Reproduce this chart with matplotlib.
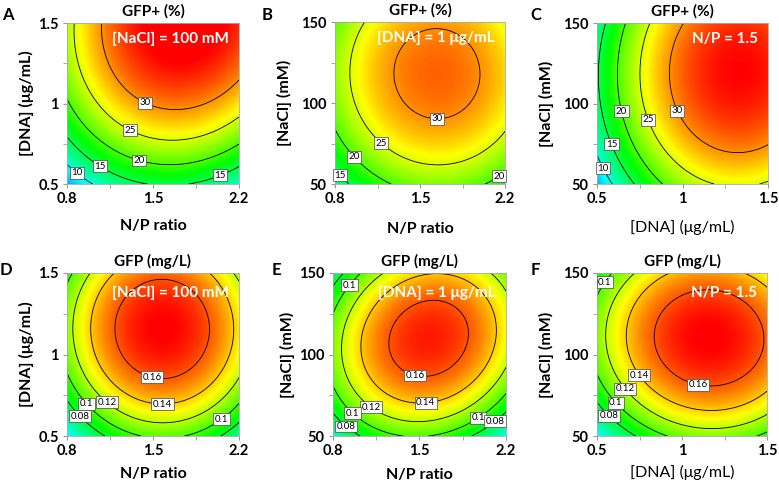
import numpy as np
import matplotlib
matplotlib.use('Agg')
import matplotlib.pyplot as plt
from matplotlib.colors import LinearSegmentedColormap

plt.rcParams['font.family'] = ['Lato', 'DejaVu Sans']

# quadratic response-surface coefficients (coded units -1..1): b0, bu, bv, buu, bvv, buv
coef_A = [30.32, 3.768, 10.19, -7.04, -4.941, 1.32]
coef_B = [30.67, 2.558, 3.805, -6.299, -5.222, -0.1245]
coef_C = [30.96, 9.623, 3.65, -7.301, -4.748, 0.3383]
coef_D = [0.1708, 0.01116, 0.02632, -0.05139, -0.04189, -0.00053]
coef_E = [0.1683, 0.008229, 0.01818, -0.05059, -0.04915, 0.01239]
coef_F = [0.1698, 0.02443, 0.0191, -0.0376, -0.04492, -0.002258]

levels_pct = [10, 15, 20, 25, 30]
levels_pct_B = [15, 20, 25, 30]
levels_mg = [0.08, 0.1, 0.12, 0.14, 0.16]

NP = (0.8, 2.2)
DNA = (0.5, 1.5)
NACL = (50, 150)

lab_A = [(1.437, 1.005), (1.311, 0.835), (1.395, 0.665), (1.08, 0.625), (2.04, 0.565), (0.884, 0.575)]
lab_B = [(1.64, 82), (1.19, 76), (0.975, 68), (0.856, 56.5), (2.13, 57)]
lab_C = [(0.99, 96.5), (0.805, 90), (0.635, 95), (0.59, 75), (0.54, 60)]
lab_D = [(1.5, 0.875), (1.577, 0.71), (1.129, 0.71), (0.961, 0.70), (0.905, 0.62), (2.053, 0.605)]
lab_E = [(1.465, 86.5), (1.55, 70), (1.115, 68.5), (0.96, 64), (0.905, 55.5), (0.933, 142.5), (1.976, 61), (2.11, 59)]
lab_F = [(1.094, 82), (0.745, 87), (0.666, 79), (0.61, 70.5), (0.57, 62.5), (0.545, 144.5)]

cmap = LinearSegmentedColormap.from_list('de', ['#0000ff', '#00ffff', '#00ff00', '#ffff00', '#ff0000'])

W, H = 779, 486
fig = plt.figure(figsize=(W/100, H/100), dpi=100)

panels = [
    ('A', coef_A, NP, DNA, 'N/P ratio', '[DNA] (μg/mL)', 'GFP+ (%)', '[NaCl] = 100 mM', levels_pct, (0, 35), (67,23,239,184), True, lab_A, (8,15), -0.19, -0.215),
    ('B', coef_B, NP, NACL, 'N/P ratio', '[NaCl] (mM)', 'GFP+ (%)', '[DNA] = 1 μg/mL', levels_pct_B, (0, 35), (335,22,505,184), True, lab_B, (267,15), -0.255, -0.235),
    ('C', coef_C, DNA, NACL, '[DNA] (μg/mL)', '[NaCl] (mM)', 'GFP+ (%)', 'N/P = 1.5', levels_pct, (0, 35), (597,23,768,184), False, lab_C, (536,15), -0.25, -0.225),
    ('D', coef_D, NP, DNA, 'N/P ratio', '[DNA] (μg/mL)', 'GFP (mg/L)', '[NaCl] = 100 mM', levels_mg, (0, 0.175), (67,273,239,436), True, lab_D, (6,270), -0.19, -0.19),
    ('E', coef_E, NP, NACL, 'N/P ratio', '[NaCl] (mM)', 'GFP (mg/L)', '[DNA] = 1 μg/mL', levels_mg, (0, 0.175), (333,273,506,436), True, lab_E, (276,270), -0.22, -0.195),
    ('F', coef_F, DNA, NACL, '[DNA] (μg/mL)', '[NaCl] (mM)', 'GFP (mg/L)', 'N/P = 1.5', levels_mg, (0, 0.175), (597,273,767,436), False, lab_F, (535,270), -0.25, -0.18),
]

for (letter, c, xr, yr, xl, yl, title, note, levels, vr, box, xbold,
     labpos, letpos, ylx, xly) in panels:
    x0, y0, x1, y1 = box
    ax = fig.add_axes([x0/W, 1-y1/H, (x1-x0)/W, (y1-y0)/H])
    xs = np.linspace(xr[0], xr[1], 300)
    ys = np.linspace(yr[0], yr[1], 300)
    X, Y = np.meshgrid(xs, ys)
    U = (X - (xr[0]+xr[1])/2) / ((xr[1]-xr[0])/2)
    V = (Y - (yr[0]+yr[1])/2) / ((yr[1]-yr[0])/2)
    Z = c[0] + c[1]*U + c[2]*V + c[3]*U*U + c[4]*V*V + c[5]*U*V
    ax.imshow(Z, origin='lower', extent=[xr[0], xr[1], yr[0], yr[1]], aspect='auto',
              cmap=cmap, vmin=vr[0], vmax=vr[1], interpolation='bilinear')
    cs = ax.contour(X, Y, Z, levels=levels, colors='k', linewidths=0.6)
    lbls = ax.clabel(cs, fmt=lambda v: ('%g' % v), fontsize=7, inline=False, manual=labpos)
    for t in lbls:
        t.set_rotation(0)
        t.set_clip_on(False)
        t.set_bbox(dict(boxstyle='square,pad=0.15', fc='white', ec='#444444', lw=0.5))
    ax.set_xlim(xr); ax.set_ylim(yr)
    ax.set_title(title, fontsize=11, fontweight='bold', pad=5)
    ax.set_xlabel(xl, fontsize=11.5, fontweight='bold' if xbold else 'normal')
    ax.set_ylabel(yl, fontsize=11.5, fontweight='bold')
    ax.yaxis.set_label_coords(ylx, 0.5)
    ax.xaxis.set_label_coords(0.5, xly)
    ax.text(0.94, 0.9 if y0 < 100 else 0.88, note, transform=ax.transAxes, color='white',
            fontsize=11, fontweight='bold', ha='right', va='center')
    ax.set_xticks([xr[0], (xr[0]+xr[1])/2, xr[1]])
    ax.set_yticks([yr[0], (yr[0]+yr[1])/2, yr[1]])
    ax.set_xticks([xr[0] + (xr[1]-xr[0])*f for f in (0.25, 0.75)], minor=True)
    ax.set_yticks([yr[0] + (yr[1]-yr[0])*f for f in (0.25, 0.75)], minor=True)
    ax.set_xticklabels(['%g' % v for v in ax.get_xticks()], fontsize=10.5, fontweight='bold')
    ax.set_yticklabels(['%g' % v for v in ax.get_yticks()], fontsize=10.5, fontweight='bold')
    for s in ax.spines.values():
        s.set_color('#aaaaaa'); s.set_linewidth(0.6)
    ax.tick_params(which='both', length=3, color='#999999', pad=3)
    fig.text(letpos[0]/W, 1-letpos[1]/H, letter, fontsize=12, fontweight='bold', va='center', ha='center')

fig.savefig('out.png', dpi=100)
